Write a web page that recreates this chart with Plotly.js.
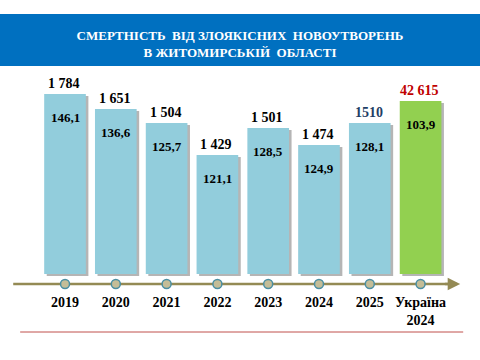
<!DOCTYPE html>
<html>
<head>
<meta charset="utf-8">
<script src="https://cdn.plot.ly/plotly-3.0.1.min.js"></script>
<style>html,body{margin:0;padding:0;background:#fff}#chart{width:480px;height:360px}</style>
</head>
<body>
<div id="chart"></div>
<script>
// ---- data ----
const categories = ['2019', '2020', '2021', '2022', '2023', '2024', '2025', 'Україна<br>2024'];
const deaths     = ['1 784', '1 651', '1 504', '1 429', '1 501', '1 474', '1510', '42 615'];
const rates      = ['146,1', '136,6', '125,7', '121,1', '128,5', '124,9', '128,1', '103,9'];
// visual bar heights as drawn in the infographic (not to the scale of the rates)
const barHeight  = [180, 165, 151, 119, 146, 129, 151, 173];
const titleText  = 'СМЕРТНІСТЬ\u00A0\u00A0ВІД ЗЛОЯКІСНИХ\u00A0\u00A0НОВОУТВОРЕНЬ<br>В ЖИТОМИРСЬКІЙ\u00A0\u00A0ОБЛАСТІ';

// ---- drawing ----
const idx = categories.map((_, i) => i);
const last = categories.length - 1;
const serif = 'Liberation Serif';
const barColors = idx.map(i => i === last ? '#92D050' : '#92CDDC');
const topColors = idx.map(i => i === last ? '#C00000' : (i === last - 1 ? '#1F3F66' : '#000000'));
const axisY = -10;

const shadow = {
  type: 'bar', x: idx.map(i => i + 0.05), y: barHeight, base: -2, width: 0.82,
  marker: { color: 'rgba(90,90,90,0.45)' }, hoverinfo: 'skip', showlegend: false
};
const bars = {
  type: 'bar', x: idx, y: barHeight, width: 0.82,
  marker: { color: barColors }, hoverinfo: 'skip', showlegend: false
};
const dots = {
  type: 'scatter', mode: 'markers', x: idx, y: idx.map(() => axisY),
  marker: { size: 9, color: '#C4BD97', line: { color: '#4A8FA3', width: 1.5 } },
  hoverinfo: 'skip', showlegend: false
};

const annotations = [];
idx.forEach(i => {
  annotations.push({
    x: i, y: barHeight[i], xref: 'x', yref: 'y', text: '<b>' + deaths[i] + '</b>', showarrow: false,
    yanchor: 'bottom', yshift: 1, xshift: -1,
    font: { family: serif, size: 14, color: topColors[i] }
  });
  annotations.push({
    x: i, y: barHeight[i], xref: 'x', yref: 'y', text: '<b>' + rates[i] + '</b>', showarrow: false,
    yanchor: 'middle', yshift: -23,
    font: { family: serif, size: 13, color: '#000000' }
  });
});
// arrow head of the time axis
annotations.push({
  x: 7.78, y: axisY, ax: 7.45, ay: axisY, xref: 'x', yref: 'y', axref: 'x', ayref: 'y',
  text: '', showarrow: true, arrowhead: 2, arrowsize: 1, arrowwidth: 2.5, arrowcolor: '#948A54'
});

const layout = {
  width: 480, height: 360,
  margin: { l: 0, r: 0, t: 0, b: 68 },
  paper_bgcolor: '#ffffff', plot_bgcolor: '#ffffff',
  barmode: 'overlay', showlegend: false,
  title: {
    text: '<b>' + titleText + '</b>', x: 0.5, xanchor: 'center', y: 0.889, yanchor: 'middle', yref: 'container',
    font: { family: serif, size: 13, color: '#ffffff' }
  },
  xaxis: {
    range: [-1.28, 8.17], tickmode: 'array', tickvals: idx, ticktext: categories.map(c => '<b>' + c + '</b>'),
    showgrid: false, zeroline: false, showline: false, ticks: '',
    tickfont: { family: serif, size: 14, color: '#000000' },
    fixedrange: true
  },
  yaxis: {
    range: [-18, 274], showgrid: false, zeroline: false, showline: false,
    showticklabels: false, ticks: '', fixedrange: true
  },
  shapes: [
    { type: 'rect', xref: 'paper', yref: 'y', x0: 0, x1: 1, y0: 208, y1: 260,
      fillcolor: '#0070C0', line: { width: 0 }, layer: 'below' },
    { type: 'line', xref: 'x', yref: 'y', x0: -1.02, x1: 7.6, y0: axisY, y1: axisY,
      line: { color: '#948A54', width: 2.5 }, layer: 'below' },
    { type: 'line', xref: 'paper', yref: 'paper', x0: 0.042, x1: 0.965, y0: -0.137, y1: -0.137,
      line: { color: '#C0504D', width: 1 } }
  ],
  annotations: annotations
};

Plotly.newPlot('chart', [shadow, bars, dots], layout, { displayModeBar: false, staticPlot: true });
</script>
</body>
</html>
